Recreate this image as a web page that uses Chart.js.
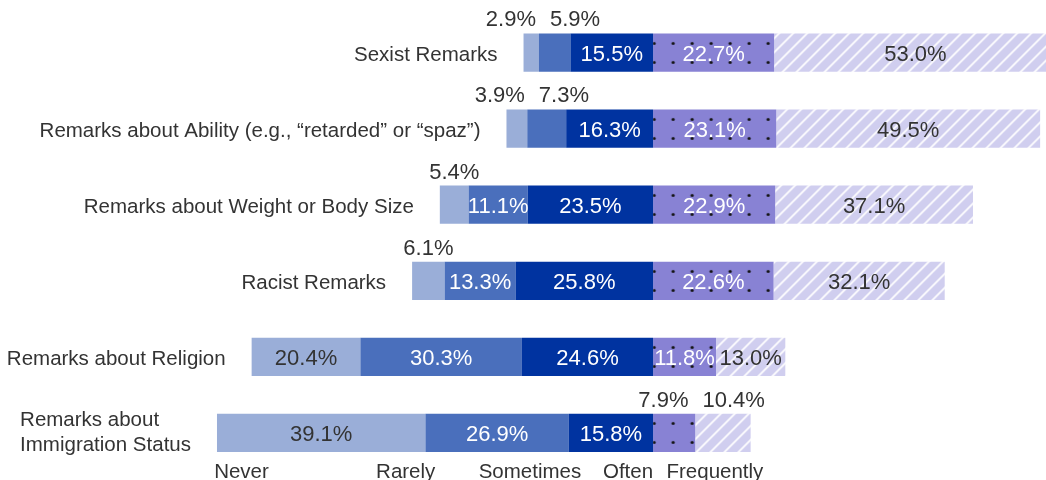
<!DOCTYPE html>
<html>
<head>
<meta charset="utf-8">
<script src="https://cdn.jsdelivr.net/npm/chart.js@4.4.0/dist/chart.umd.min.js"></script>
<style>
  html, body { margin: 0; padding: 0; background: #fff; }
  #wrap { position: relative; width: 1046px; height: 480px; }
</style>
</head>
<body>
<div id="wrap"><canvas id="grafico"></canvas></div>
<script>
// dados (percentuais por tipo de comentario)
const categorias = [
  'Sexist Remarks',
  'Remarks about Ability (e.g., \u201cretarded\u201d or \u201cspaz\u201d)',
  'Remarks about Weight or Body Size',
  'Racist Remarks',
  'Remarks about Religion',
  ['Remarks about', 'Immigration Status']
];
const respostas = ['Never', 'Rarely', 'Sometimes', 'Often', 'Frequently'];
const never      = [2.9, 3.9, 5.4, 6.1, 20.4, 39.1];
const rarely     = [5.9, 7.3, 11.1, 13.3, 30.3, 26.9];
const sometimes  = [15.5, 16.3, 23.5, 25.8, 24.6, 15.8];
const often      = [22.7, 23.1, 22.9, 22.6, 11.8, 7.9];
const frequently = [53.0, 49.5, 37.1, 32.1, 13.0, 10.4];

// onde ficam os nomes das respostas embaixo (em unidades do eixo x)
const posLegenda = [-77.2, -46.4, -23.1, -4.7, 11.6];

const FONTE = '"Liberation Sans", Arial, sans-serif';
const TEXTO = '#333333';

const ctx = document.getElementById('grafico').getContext('2d');

// padrao de pontinhos (Often)
const tilePontos = document.createElement('canvas');
tilePontos.width = 19; tilePontos.height = 19;
{
  const g = tilePontos.getContext('2d');
  g.fillStyle = '#8882d4';
  g.fillRect(0, 0, 19, 19);
  g.fillStyle = '#151515';
  g.beginPath();
  g.arc(9.5, 9.5, 1.6, 0, Math.PI * 2);
  g.fill();
}
const pontos = ctx.createPattern(tilePontos, 'repeat');

// hachurado diagonal (Frequently)
const tileHachura = document.createElement('canvas');
tileHachura.width = 14; tileHachura.height = 14;
{
  const g = tileHachura.getContext('2d');
  g.fillStyle = '#d0ceef';
  g.fillRect(0, 0, 14, 14);
  g.strokeStyle = '#ffffff';
  g.lineWidth = 1.8;
  g.beginPath();
  g.moveTo(-2, 16); g.lineTo(16, -2);
  g.moveTo(-9, 9); g.lineTo(9, -9);
  g.moveTo(5, 23); g.lineTo(23, 5);
  g.stroke();
}
const hachura = ctx.createPattern(tileHachura, 'repeat');

const neg = arr => arr.map(v => -v);

// ordem de empilhamento: o que fica mais perto do centro vem primeiro
const datasets = [
  { label: respostas[2], data: neg(sometimes), backgroundColor: '#0033a0', corTexto: '#ffffff' },
  { label: respostas[1], data: neg(rarely),    backgroundColor: '#4a6fbc', corTexto: '#ffffff' },
  { label: respostas[0], data: neg(never),     backgroundColor: '#9aaed8', corTexto: TEXTO },
  { label: respostas[3], data: often,          backgroundColor: pontos,    corTexto: '#ffffff' },
  { label: respostas[4], data: frequently,     backgroundColor: hachura,   corTexto: TEXTO }
].map(ds => Object.assign(ds, { borderWidth: 0, barPercentage: 0.503, categoryPercentage: 1 }));

// alinha os padroes com o centro e o topo das barras
const alinhaPadroes = {
  id: 'alinhaPadroes',
  beforeDatasetsDraw(chart) {
    const el = chart.getDatasetMeta(3).data[0];
    const x0 = chart.scales.x.getPixelForValue(0);
    const topo = el.y - el.height / 2;
    pontos.setTransform(new DOMMatrix([1, 0, 0, 1, x0 + 1 - 9.5, topo + 10 - 9.5]));
    hachura.setTransform(new DOMMatrix([1, 0, 0, 1, x0, topo]));
  }
};

const rotulos = {
  id: 'rotulos',
  afterDatasetsDraw(chart) {
    const c = chart.ctx;
    const xs = chart.scales.x;
    c.save();

    // valores dentro / acima das barras
    c.font = '22px ' + FONTE;
    c.textAlign = 'center';
    c.textBaseline = 'alphabetic';
    categorias.forEach((cat, i) => {
      const acima = [];
      chart.data.datasets.forEach((ds, d) => {
        const el = chart.getDatasetMeta(d).data[i];
        const larg = Math.abs(el.x - el.base);
        const cx = (el.x + el.base) / 2;
        const txt = Math.abs(ds.data[i]).toFixed(1) + '%';
        if (larg < 57) {
          acima.push({ cx, txt, w: c.measureText(txt).width, topo: el.y - el.height / 2 });
        } else {
          c.fillStyle = ds.corTexto;
          c.fillText(txt, cx, el.y + 8);
        }
      });
      acima.sort((a, b) => a.cx - b.cx);
      for (let k = 1; k < acima.length; k++) {
        const a = acima[k - 1], b = acima[k];
        const precisa = a.w / 2 + b.w / 2 + 14;
        const dist = b.cx - a.cx;
        if (dist < precisa) {
          const m = (precisa - dist) / 2;
          a.cx -= m; b.cx += m;
        }
      }
      c.fillStyle = TEXTO;
      acima.forEach(a => c.fillText(a.txt, a.cx, a.topo - 7));
    });

    // nomes das categorias a esquerda de cada barra
    c.font = '20.5px ' + FONTE;
    c.fillStyle = TEXTO;
    categorias.forEach((cat, i) => {
      const el = chart.getDatasetMeta(2).data[i];
      const esq = Math.min(el.x, el.base) - 26;
      if (Array.isArray(cat)) {
        const maxW = Math.max(...cat.map(t => c.measureText(t).width));
        c.textAlign = 'left';
        cat.forEach((t, k) => c.fillText(t, esq - maxW, el.y - 6.5 + k * 25));
      } else {
        c.textAlign = 'right';
        c.fillText(cat, esq, el.y + 8.5);
      }
    });

    // nomes das respostas embaixo
    c.textAlign = 'center';
    respostas.forEach((r, k) => {
      c.fillText(r, xs.getPixelForValue(posLegenda[k]), 478);
    });

    c.restore();
  }
};

new Chart(ctx, {
  type: 'bar',
  data: { labels: categorias, datasets: datasets },
  options: {
    indexAxis: 'y',
    responsive: true,
    maintainAspectRatio: false,
    animation: false,
    layout: { padding: { top: 14.5, bottom: 9, left: 0, right: 0 } },
    plugins: {
      legend: { display: false },
      tooltip: { enabled: false }
    },
    scales: {
      x: { stacked: true, display: false, min: -122.5, max: 73.7 },
      y: { stacked: true, display: false }
    }
  },
  plugins: [alinhaPadroes, rotulos]
});
</script>
</body>
</html>
